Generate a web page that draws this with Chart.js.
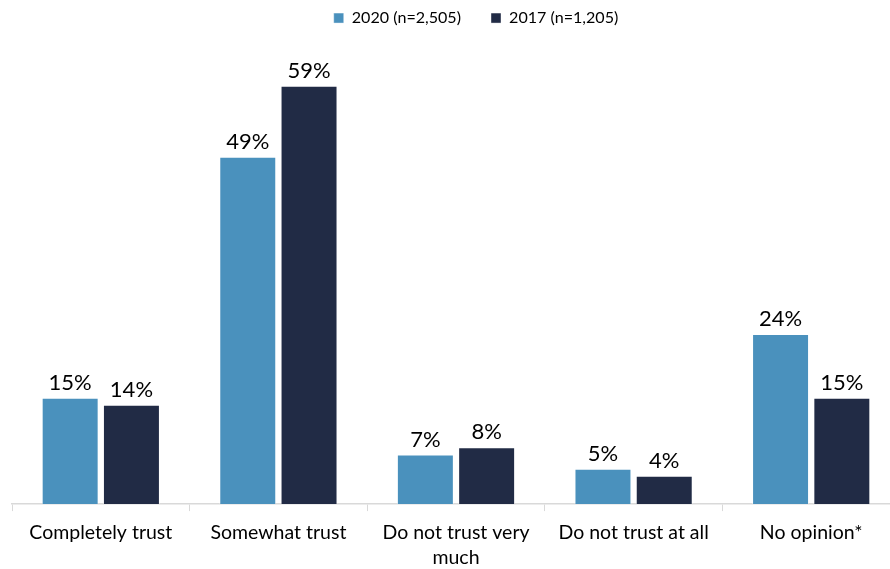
<!DOCTYPE html>
<html>
<head>
<meta charset="utf-8">
<script src="https://cdn.jsdelivr.net/npm/chart.js@4/dist/chart.umd.min.js"></script>
<style>
    html, body { margin: 0; padding: 0; background: #fff; overflow: hidden; }
    #wrap { width: 900px; height: 569px; position: relative; }
</style>
</head>
<body>
<div id="wrap"><canvas id="trustChart"></canvas></div>
<script>
// Survey data
const categories = [
    'Completely trust',
    'Somewhat trust',
    ['Do not trust very', 'much'],
    'Do not trust at all',
    'No opinion*'
];
const series2020 = [15, 49, 7, 5, 24];
const series2017 = [14, 59, 8, 4, 15];
const seriesNames = ['2020 (n=2,505)', '2017 (n=1,205)'];
const seriesColors = ['#4a91bd', '#212b45'];

// Draws the percentage above each bar
const valueLabels = {
    id: 'valueLabels',
    afterDatasetsDraw(chart) {
        const ctx = chart.ctx;
        ctx.save();
        ctx.font = '22px Lato';
        ctx.fillStyle = '#000';
        ctx.textAlign = 'center';
        ctx.textBaseline = 'bottom';
        chart.data.datasets.forEach((ds, i) => {
            chart.getDatasetMeta(i).data.forEach((bar, j) => {
                ctx.fillText(ds.data[j] + '%', bar.x, bar.y - 4);
            });
        });
        ctx.restore();
    }
};

// Nudges the legend a little to the right of centre
const legendShift = {
    id: 'legendShift',
    afterLayout(chart) {
        if (chart.legend) {
            chart.legend.left += 20;
            chart.legend.right += 20;
        }
    }
};

new Chart(document.getElementById('trustChart').getContext('2d'), {
    type: 'bar',
    data: {
        labels: categories,
        datasets: [
            {
                label: seriesNames[0],
                data: series2020,
                backgroundColor: seriesColors[0],
                borderColor: 'rgba(255,255,255,0.4)',
                borderWidth: 1,
                categoryPercentage: 0.69,
                barPercentage: 0.93
            },
            {
                label: seriesNames[1],
                data: series2017,
                backgroundColor: seriesColors[1],
                borderColor: 'rgba(255,255,255,0.4)',
                borderWidth: 1,
                categoryPercentage: 0.69,
                barPercentage: 0.93
            }
        ]
    },
    options: {
        responsive: true,
        maintainAspectRatio: false,
        animation: false,
        layout: { padding: { left: 12, right: 0, top: -20, bottom: -10 } },
        plugins: {
            legend: {
                position: 'top',
                labels: {
                    font: { family: 'Lato', size: 16.1 },
                    color: '#000',
                    boxWidth: 10,
                    boxHeight: 10,
                    padding: 30
                }
            },
            tooltip: { enabled: false }
        },
        scales: {
            x: {
                grid: {
                    offset: true,
                    drawOnChartArea: false,
                    color: '#d9d9d9',
                    tickLength: 7
                },
                border: { color: '#d9d9d9', width: 1.5 },
                ticks: {
                    font: { family: 'Lato', size: 19.5, lineHeight: 1.28 },
                    color: '#000',
                    maxRotation: 0,
                    padding: 9
                }
            },
            y: {
                display: false,
                beginAtZero: true,
                min: 0,
                max: 66
            }
        }
    },
    plugins: [valueLabels, legendShift]
});
</script>
</body>
</html>
